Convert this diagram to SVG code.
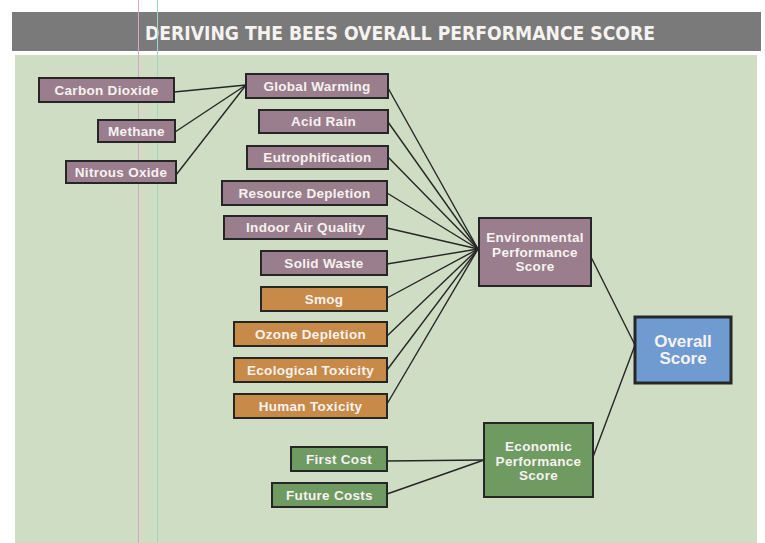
<svg xmlns="http://www.w3.org/2000/svg" width="765" height="543" viewBox="0 0 765 543">
<style>
.box{stroke:#262626;stroke-width:2}
.m{fill:#9a7e8d}
.o{fill:#c88a48}
.g{fill:#6f9a62}
.b{fill:#6f9bd0}
text{font-family:"Liberation Sans",Arial,sans-serif;font-weight:bold;fill:#f6f2f0;text-anchor:middle;dominant-baseline:central}
.t{font-size:13.5px;letter-spacing:0.3px}
.big{font-size:17px}
.conn line{stroke:#262626;stroke-width:1.4}
</style>
<rect x="0" y="0" width="765" height="543" fill="#ffffff"/>
<rect x="12" y="12" width="749" height="39" fill="#7a7a7a"/>
<text x="400" y="33" style="font-family:'DejaVu Sans Condensed','DejaVu Sans',sans-serif;font-size:19px" textLength="510" lengthAdjust="spacingAndGlyphs">DERIVING THE BEES OVERALL PERFORMANCE SCORE</text>
<rect x="15" y="55" width="742" height="488" fill="#d0ddc5"/>
<line x1="138.5" y1="0" x2="138.5" y2="543" stroke="#d2a9c2" stroke-width="1"/>
<line x1="157.5" y1="0" x2="157.5" y2="543" stroke="#9ad9c6" stroke-width="1"/>
<g class="conn">
<line x1="174" y1="92" x2="246" y2="85"/>
<line x1="175" y1="132" x2="246" y2="85"/>
<line x1="176" y1="175" x2="246" y2="85"/>
<line x1="388" y1="88" x2="478" y2="249"/>
<line x1="388" y1="122" x2="478" y2="249"/>
<line x1="388" y1="157" x2="478" y2="249"/>
<line x1="387" y1="193" x2="478" y2="249"/>
<line x1="387" y1="228" x2="478" y2="249"/>
<line x1="387" y1="264" x2="478" y2="249"/>
<line x1="387" y1="298" x2="478" y2="249"/>
<line x1="387" y1="336" x2="478" y2="249"/>
<line x1="387" y1="370" x2="478" y2="249"/>
<line x1="387" y1="404" x2="478" y2="249"/>
<line x1="591" y1="257" x2="635" y2="345"/>
<line x1="593" y1="457" x2="635" y2="345"/>
<line x1="387" y1="461" x2="484" y2="460"/>
<line x1="387" y1="494" x2="484" y2="460"/>
</g>
<g id="carbon-dioxide"><rect class="box m" x="39" y="78" width="135" height="24"/><text class="t" x="106.5" y="90">Carbon Dioxide</text></g>
<g id="methane"><rect class="box m" x="98" y="120" width="77" height="22"/><text class="t" x="136.5" y="131">Methane</text></g>
<g id="nitrous-oxide"><rect class="box m" x="66" y="161" width="110" height="22"/><text class="t" x="121" y="172">Nitrous Oxide</text></g>
<g id="global-warming"><rect class="box m" x="246" y="74" width="142" height="24"/><text class="t" x="317" y="86">Global Warming</text></g>
<g id="acid-rain"><rect class="box m" x="259" y="110" width="129" height="23"/><text class="t" x="323.5" y="121.5">Acid Rain</text></g>
<g id="eutrophification"><rect class="box m" x="247" y="146" width="141" height="23"/><text class="t" x="317.5" y="157.5">Eutrophification</text></g>
<g id="resource-depletion"><rect class="box m" x="222" y="181" width="165" height="24"/><text class="t" x="304.5" y="193">Resource Depletion</text></g>
<g id="indoor-air-quality"><rect class="box m" x="224" y="216" width="163" height="23"/><text class="t" x="305.5" y="227.5">Indoor Air Quality</text></g>
<g id="solid-waste"><rect class="box m" x="261" y="251" width="126" height="24"/><text class="t" x="324" y="263">Solid Waste</text></g>
<g id="smog"><rect class="box o" x="261" y="287" width="126" height="24"/><text class="t" x="324" y="299">Smog</text></g>
<g id="ozone-depletion"><rect class="box o" x="234" y="322" width="153" height="24"/><text class="t" x="310.5" y="334">Ozone Depletion</text></g>
<g id="ecological-toxicity"><rect class="box o" x="234" y="358" width="153" height="24"/><text class="t" x="310.5" y="370">Ecological Toxicity</text></g>
<g id="human-toxicity"><rect class="box o" x="234" y="394" width="153" height="24"/><text class="t" x="310.5" y="406">Human Toxicity</text></g>
<g id="environmental-performance-score"><rect class="box m" x="479" y="218" width="112" height="68"/><text class="t" x="535" y="237">Environmental</text><text class="t" x="535" y="252">Performance</text><text class="t" x="535" y="266.5">Score</text></g>
<g id="overall-score"><rect class="box b" x="635" y="317" width="96" height="66" style="stroke-width:3"/><text class="big" x="683" y="341">Overall</text><text class="big" x="683" y="358.5">Score</text></g>
<g id="economic-performance-score"><rect class="box g" x="484" y="423" width="109" height="74"/><text class="t" x="538.5" y="446">Economic</text><text class="t" x="538.5" y="461">Performance</text><text class="t" x="538.5" y="475.5">Score</text></g>
<g id="first-cost"><rect class="box g" x="291" y="447" width="96" height="24"/><text class="t" x="339" y="459">First Cost</text></g>
<g id="future-costs"><rect class="box g" x="272" y="483" width="115" height="24"/><text class="t" x="329.5" y="495">Future Costs</text></g>
</svg>
